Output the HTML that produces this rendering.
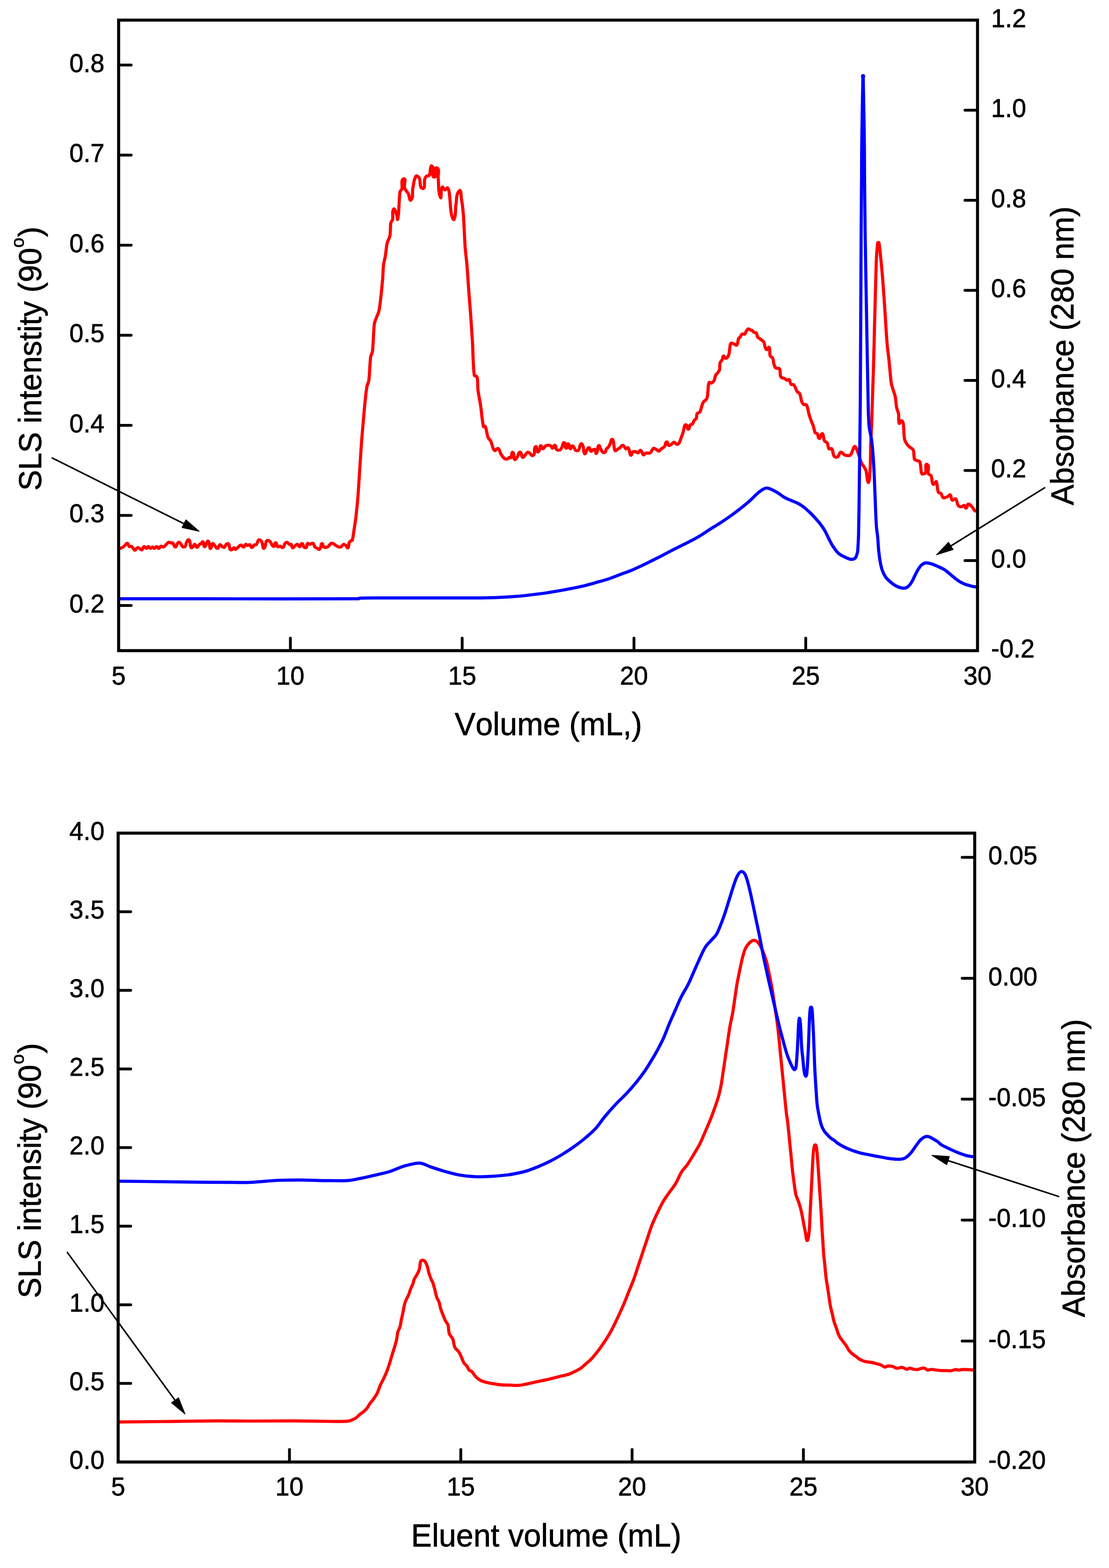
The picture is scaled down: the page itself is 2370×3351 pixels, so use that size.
<!DOCTYPE html><html><head><meta charset="utf-8"><title>SLS and absorbance chromatograms</title><style>html,body{margin:0;padding:0;background:#fff;}svg{display:block;}text{font-family:"Liberation Sans", Arial, sans-serif;fill:#000;font-kerning:none;stroke:#000;stroke-width:0.8px;}</style></head><body>
<svg width="2370" height="3351" viewBox="0 0 2370 3351">
<rect width="2370" height="3351" fill="#fff"/>
<path d="M256.9 1171.9 C258.7 1171.2 260.7 1170.7 262.3 1169.6 C264.0 1168.6 265.4 1167.1 266.9 1165.8 C268.7 1164.3 270.0 1160.6 272.3 1161.2 C274.9 1161.8 274.0 1166.5 276.2 1168.1 C277.4 1169.0 279.4 1166.7 280.8 1167.3 C282.6 1168.2 283.3 1170.5 284.6 1171.9 C285.9 1173.3 286.7 1176.1 288.5 1175.8 C291.0 1175.4 291.4 1171.1 293.9 1170.4 C295.8 1169.9 297.5 1171.8 299.3 1172.7 C300.6 1173.4 301.8 1175.7 303.1 1175.0 C305.5 1173.7 305.1 1168.9 307.7 1168.1 C309.8 1167.4 310.9 1171.9 313.1 1171.9 C314.9 1171.9 315.2 1168.1 317.0 1168.1 C319.0 1168.1 319.6 1171.7 321.6 1171.9 C323.4 1172.2 324.4 1169.2 326.2 1169.2 C327.8 1169.2 328.5 1172.1 330.0 1171.9 C332.0 1171.7 332.7 1168.1 334.7 1168.1 C336.7 1168.1 337.3 1172.1 339.3 1171.9 C341.5 1171.8 341.8 1168.0 343.9 1167.3 C345.4 1166.8 346.9 1169.0 348.5 1168.9 C350.0 1168.7 351.2 1167.5 352.4 1166.6 C353.8 1165.4 354.9 1164.0 356.2 1162.7 C357.5 1161.4 358.3 1159.3 360.1 1158.9 C361.9 1158.4 363.6 1160.1 365.5 1160.4 C366.7 1160.6 368.4 1159.5 369.3 1160.4 C371.8 1162.7 371.4 1168.1 374.7 1168.9 C377.0 1169.5 377.1 1164.6 378.5 1162.7 C379.6 1161.3 380.6 1159.0 382.4 1158.9 C384.0 1158.7 385.2 1160.7 386.2 1161.9 C387.8 1163.8 388.1 1166.8 390.1 1168.1 C391.6 1169.1 394.2 1169.4 395.5 1168.1 C397.6 1166.0 397.3 1162.3 398.6 1159.6 C399.6 1157.4 400.2 1154.5 402.4 1153.5 C403.7 1152.9 405.0 1155.2 405.5 1156.6 C407.1 1161.0 406.1 1166.3 408.6 1170.4 C409.3 1171.7 411.3 1169.1 412.4 1168.1 C413.9 1166.8 414.3 1163.1 416.3 1163.5 C418.8 1163.9 418.3 1169.4 420.9 1169.6 C423.2 1169.8 423.7 1165.8 425.5 1164.2 C426.9 1163.0 428.6 1162.3 430.1 1161.2 C431.4 1160.2 432.8 1156.9 434.0 1158.1 C436.4 1160.6 434.0 1166.4 437.0 1168.1 C439.2 1169.3 439.5 1164.0 440.9 1161.9 C442.1 1160.1 442.8 1155.5 444.7 1156.6 C447.6 1158.1 446.7 1162.7 447.8 1165.8 C448.5 1167.9 448.3 1173.1 450.1 1171.9 C453.2 1170.1 450.9 1163.7 454.0 1161.9 C456.0 1160.7 457.6 1164.9 459.4 1166.6 C461.2 1168.3 462.3 1172.5 464.7 1171.9 C467.8 1171.3 467.2 1165.4 470.1 1164.2 C472.0 1163.5 473.0 1167.1 474.8 1168.1 C476.2 1168.9 478.0 1170.5 479.4 1169.6 C481.8 1168.2 481.8 1164.4 484.0 1162.7 C485.2 1161.8 487.8 1161.4 488.6 1162.7 C490.8 1166.0 489.8 1170.7 491.7 1174.3 C492.2 1175.3 494.0 1175.3 495.0 1174.9 C497.0 1174.1 497.8 1171.0 500.0 1170.7 C501.5 1170.6 501.8 1174.2 503.3 1174.1 C505.5 1173.9 506.6 1171.2 508.3 1169.9 C510.5 1168.2 512.2 1165.1 515.0 1164.9 C517.3 1164.8 518.4 1169.5 520.8 1169.1 C523.1 1168.7 522.7 1164.1 524.9 1163.3 C526.4 1162.7 527.5 1165.6 529.1 1165.8 C530.8 1165.9 532.5 1163.4 534.1 1164.1 C536.2 1165.1 535.9 1169.7 538.2 1169.9 C540.6 1170.1 541.3 1166.2 543.2 1164.9 C544.7 1164.0 547.1 1164.6 548.2 1163.3 C550.4 1160.7 549.9 1156.4 552.4 1154.1 C553.6 1153.0 556.1 1153.8 557.3 1155.0 C559.2 1156.6 559.9 1159.3 560.7 1161.6 C561.8 1164.8 560.9 1169.0 563.2 1171.6 C564.2 1172.8 565.9 1169.7 566.5 1168.3 C567.9 1164.8 567.5 1160.8 569.0 1157.4 C569.5 1156.2 570.9 1155.0 572.3 1155.0 C574.2 1155.0 576.0 1156.1 577.3 1157.4 C579.2 1159.5 579.6 1162.7 581.5 1164.9 C582.5 1166.2 584.3 1168.3 585.6 1167.4 C587.9 1165.9 586.2 1159.6 588.9 1159.9 C592.0 1160.3 590.7 1166.3 593.1 1168.3 C594.4 1169.3 596.4 1167.2 598.1 1167.4 C600.4 1167.8 602.6 1171.0 604.7 1169.9 C607.5 1168.4 606.9 1164.0 608.9 1161.6 C610.1 1160.2 612.0 1158.8 613.9 1159.1 C615.8 1159.5 616.3 1162.4 618.0 1163.3 C619.3 1163.9 621.2 1162.3 622.2 1163.3 C624.1 1165.2 623.0 1169.7 625.5 1170.7 C627.5 1171.5 628.8 1167.9 630.5 1166.6 C632.1 1165.4 633.5 1162.9 635.5 1163.3 C637.8 1163.6 638.2 1168.6 640.5 1168.3 C643.2 1167.8 642.7 1161.3 645.5 1161.6 C648.3 1161.9 647.5 1167.2 649.6 1169.1 C650.9 1170.2 653.4 1171.1 654.6 1169.9 C656.6 1167.9 654.9 1163.5 657.1 1161.6 C658.4 1160.4 660.3 1163.3 662.1 1163.3 C663.3 1163.3 664.2 1161.9 665.4 1161.6 C666.8 1161.3 668.6 1160.6 669.6 1161.6 C671.5 1163.5 671.1 1167.0 672.9 1169.1 C674.1 1170.5 676.2 1170.7 677.9 1171.6 C679.3 1172.3 680.5 1174.4 682.0 1174.1 C683.8 1173.7 684.6 1171.5 685.4 1169.9 C686.6 1167.3 685.1 1162.4 687.9 1161.6 C690.2 1160.9 689.5 1166.4 691.2 1168.3 C692.2 1169.4 693.8 1169.9 695.3 1169.9 C697.3 1169.9 699.5 1169.4 701.2 1168.3 C703.5 1166.5 704.5 1163.1 707.0 1161.6 C708.4 1160.7 710.4 1161.0 712.0 1161.6 C714.2 1162.5 715.7 1164.5 717.8 1165.8 C719.9 1167.0 722.0 1168.6 724.4 1169.1 C726.1 1169.4 728.0 1169.1 729.4 1168.3 C731.4 1167.1 732.1 1163.8 734.4 1163.3 C736.2 1162.8 738.0 1164.6 739.4 1165.8 C741.1 1167.1 741.9 1172.2 743.5 1170.7 C746.3 1168.3 744.5 1163.3 746.0 1159.9 C747.0 1157.8 749.2 1156.4 751.0 1155.0 C751.5 1154.6 752.8 1155.2 752.9 1154.6 C754.8 1146.8 755.6 1138.9 756.8 1131.0 C758.2 1121.9 759.7 1112.8 760.8 1103.6 C762.3 1090.6 763.6 1077.5 764.7 1064.4 C766.2 1044.8 767.3 1025.2 768.6 1005.6 C769.9 986.0 771.1 966.4 772.5 946.8 C773.7 931.1 775.1 915.4 776.4 899.8 C777.7 885.4 778.8 871.0 780.4 856.6 C781.5 846.2 782.4 835.6 784.3 825.3 C785.0 821.2 787.7 817.6 788.2 813.5 C790.3 796.6 790.0 779.5 792.1 762.6 C792.6 758.5 795.6 754.9 796.0 750.8 C798.2 731.3 797.8 711.5 800.0 692.0 C800.4 687.9 802.5 684.1 803.9 680.2 C805.8 675.0 808.5 670.0 809.8 664.6 C811.8 655.6 812.6 646.3 813.7 637.1 C815.2 624.1 816.5 611.0 817.6 597.9 C818.5 587.5 818.4 577.0 819.6 566.6 C820.3 559.9 822.4 553.5 823.5 547.0 C825.0 537.8 825.4 528.5 827.4 519.5 C828.6 514.1 832.3 509.3 833.3 503.8 C834.9 494.8 833.7 485.4 835.2 476.4 C835.7 473.5 838.6 471.4 839.2 468.6 C840.6 461.5 837.1 453.0 841.1 447.0 C843.2 443.8 845.5 453.3 847.0 456.8 C848.6 460.5 849.5 472.6 850.1 468.6 C853.4 449.2 852.2 429.3 854.8 409.8 C855.2 407.4 858.1 406.1 858.8 403.9 C860.8 396.9 855.8 384.6 862.7 382.3 C868.9 380.2 862.7 395.7 864.6 401.9 C866.0 406.4 870.2 409.5 872.5 413.7 C874.8 418.1 875.2 431.2 878.4 427.4 C883.9 420.8 880.5 410.3 882.3 401.9 C884.1 393.3 884.2 383.8 888.9 376.4 C890.4 374.2 894.7 378.0 896.0 380.4 C899.7 387.2 895.4 401.4 903.1 402.7 C909.9 403.9 905.6 388.9 907.8 382.3 C908.5 380.1 909.8 377.9 911.7 376.4 C913.3 375.1 916.7 376.4 917.6 374.5 C920.3 368.4 918.5 360.8 921.5 354.9 C922.3 353.2 924.9 357.0 925.4 358.8 C927.2 365.1 921.5 378.4 928.1 378.4 C934.9 378.4 926.7 357.2 933.2 358.8 C940.3 360.5 935.5 373.2 936.4 380.4 C938.1 394.1 935.5 408.9 941.1 421.5 C944.0 428.2 941.1 406.2 945.0 400.0 C946.5 397.6 948.1 405.4 950.9 405.8 C953.2 406.2 955.3 400.1 956.8 401.9 C960.2 406.1 959.9 412.3 960.7 417.6 C962.5 430.6 962.1 443.9 964.6 456.8 C965.4 461.1 968.5 472.5 970.5 468.6 C975.2 459.1 972.5 447.6 974.4 437.2 C976.2 427.3 974.3 414.9 981.5 407.8 C985.8 403.5 985.1 419.4 986.2 425.4 C988.0 435.8 989.3 446.3 990.1 456.8 C991.9 480.3 992.3 503.9 994.0 527.4 C994.9 540.5 996.8 553.5 997.9 566.6 C999.4 584.8 1000.5 603.2 1001.8 621.4 C1003.1 638.4 1004.5 655.4 1005.8 672.4 C1007.2 692.0 1008.5 711.6 1009.7 731.2 C1011.1 754.7 1010.5 778.4 1013.6 801.8 C1013.9 804.1 1018.9 803.4 1019.5 805.7 C1021.7 814.6 1020.3 824.0 1021.4 833.1 C1022.9 845.0 1025.6 856.6 1027.3 868.4 C1029.5 882.8 1030.0 897.4 1033.2 911.5 C1033.5 912.8 1036.6 910.3 1037.1 911.5 C1040.2 919.0 1040.2 927.5 1043.0 935.0 C1044.1 938.1 1047.4 940.0 1048.9 942.9 C1052.0 949.2 1051.7 957.5 1056.7 962.5 C1058.8 964.6 1062.0 957.1 1064.6 958.6 C1068.4 960.7 1068.1 966.6 1070.4 970.3 C1072.7 973.9 1074.9 977.7 1078.3 980.1 C1080.1 981.4 1082.8 981.1 1084.9 980.5 C1086.5 980.1 1087.1 977.9 1088.6 977.4 C1089.8 977.0 1091.6 979.0 1092.3 978.0 C1094.6 974.8 1092.5 965.2 1096.0 966.9 C1100.6 969.2 1095.9 978.4 1099.7 981.7 C1101.9 983.6 1104.1 977.9 1105.9 975.6 C1108.0 972.7 1107.9 965.7 1111.4 966.3 C1115.5 967.0 1113.5 975.2 1116.9 977.4 C1118.8 978.6 1120.3 974.6 1121.9 973.1 C1124.0 970.9 1125.1 967.3 1128.0 966.3 C1129.9 965.7 1131.4 968.2 1133.0 969.4 C1134.5 970.7 1135.3 973.4 1137.3 973.7 C1139.0 974.0 1140.9 972.3 1141.6 970.6 C1143.5 965.6 1140.1 957.6 1144.7 954.6 C1148.0 952.4 1145.7 963.4 1149.0 965.7 C1150.7 967.0 1152.3 962.7 1153.3 960.8 C1154.6 958.3 1153.0 953.5 1155.7 952.8 C1158.2 952.1 1157.5 958.9 1160.0 958.9 C1163.0 958.9 1163.8 954.4 1166.2 952.8 C1167.6 951.8 1169.4 951.6 1171.1 951.6 C1173.2 951.6 1175.5 951.7 1177.3 952.8 C1179.0 953.9 1179.0 958.0 1181.0 957.7 C1183.6 957.3 1183.4 950.7 1185.9 951.6 C1189.0 952.7 1187.1 958.6 1189.6 960.8 C1191.5 962.4 1194.8 962.6 1197.0 961.4 C1199.4 960.2 1200.0 957.0 1201.3 954.6 C1202.9 951.8 1202.6 944.9 1205.6 946.0 C1209.5 947.4 1205.9 956.6 1209.9 957.7 C1213.2 958.6 1210.9 948.0 1214.2 948.5 C1218.0 949.0 1215.2 957.3 1218.5 958.9 C1220.8 960.1 1220.4 953.3 1222.9 952.8 C1224.8 952.4 1225.9 955.5 1227.2 957.1 C1228.4 958.8 1228.4 961.6 1230.2 962.6 C1232.1 963.6 1235.1 963.6 1236.4 962.0 C1239.5 958.3 1238.0 951.4 1241.9 948.5 C1244.0 947.0 1245.4 952.3 1246.3 954.6 C1247.9 959.4 1246.1 965.6 1249.3 969.4 C1251.0 971.3 1252.2 965.3 1253.6 963.3 C1255.3 961.0 1255.8 956.1 1258.6 956.5 C1261.6 956.9 1260.3 963.0 1262.9 964.5 C1264.4 965.4 1265.6 962.1 1267.2 961.4 C1268.5 960.8 1270.5 959.8 1271.5 960.8 C1273.5 962.8 1272.6 970.9 1274.6 968.8 C1278.5 964.7 1275.4 956.6 1279.3 952.5 C1281.2 950.5 1282.2 957.0 1283.6 959.3 C1285.2 961.7 1286.1 965.0 1288.5 966.7 C1289.9 967.6 1292.3 967.2 1293.5 966.0 C1295.2 964.3 1294.6 961.3 1295.9 959.3 C1297.0 957.7 1299.2 957.1 1300.2 955.6 C1302.1 952.9 1303.2 949.8 1304.6 946.9 C1305.8 944.3 1305.3 938.9 1308.3 938.9 C1311.1 938.9 1310.6 944.2 1311.3 946.9 C1312.7 952.2 1311.6 958.3 1314.4 963.0 C1315.3 964.5 1317.7 961.4 1319.3 960.5 C1321.0 959.5 1322.7 958.6 1324.3 957.4 C1326.6 955.7 1328.1 951.5 1331.0 951.9 C1334.3 952.3 1334.8 957.9 1337.8 959.3 C1339.3 959.9 1340.9 955.7 1342.1 956.8 C1344.7 959.2 1344.6 963.4 1345.8 966.7 C1346.6 968.7 1346.1 973.0 1348.3 972.8 C1350.8 972.6 1349.9 967.5 1352.0 966.0 C1353.8 964.7 1356.5 965.1 1358.7 965.4 C1360.6 965.7 1361.9 968.4 1363.7 967.9 C1366.0 967.1 1366.1 962.5 1368.6 962.3 C1370.6 962.2 1371.1 965.6 1372.3 967.3 C1373.4 968.9 1373.5 971.9 1375.4 972.2 C1377.2 972.5 1377.9 969.0 1379.7 968.5 C1382.8 967.5 1386.6 969.3 1389.5 967.9 C1391.8 966.8 1392.3 963.7 1393.8 961.7 C1394.8 960.4 1395.3 958.0 1396.9 958.0 C1399.7 958.0 1401.9 960.4 1404.3 961.7 C1405.6 962.4 1406.6 964.6 1408.0 964.2 C1410.2 963.5 1411.1 960.7 1412.9 959.3 C1415.2 957.4 1418.5 956.7 1420.3 954.3 C1422.5 951.5 1421.2 945.5 1424.6 944.5 C1427.4 943.7 1426.4 950.7 1428.9 951.9 C1430.9 952.8 1433.2 950.5 1435.1 949.4 C1437.1 948.2 1438.3 945.1 1440.6 945.1 C1443.0 945.1 1443.9 949.0 1446.2 949.4 C1448.0 949.7 1450.1 948.5 1451.1 946.9 C1453.6 943.3 1454.5 938.8 1456.0 934.6 C1457.6 930.6 1459.1 926.5 1460.3 922.3 C1461.7 917.8 1461.5 912.8 1463.7 908.6 C1464.3 907.5 1466.6 907.7 1467.4 908.6 C1469.4 911.0 1468.0 917.2 1471.1 917.2 C1474.2 917.2 1472.9 911.1 1474.8 908.6 C1475.9 907.2 1478.5 907.5 1479.7 906.2 C1481.5 904.1 1481.8 901.0 1483.4 898.8 C1484.7 896.9 1487.4 896.0 1488.3 893.8 C1489.6 890.8 1488.0 886.9 1489.6 884.0 C1490.7 881.9 1494.4 882.3 1495.7 880.3 C1497.9 877.1 1498.1 872.9 1499.4 869.2 C1500.6 865.9 1501.2 862.3 1503.1 859.4 C1505.0 856.4 1509.2 855.2 1510.5 852.0 C1512.6 846.6 1512.1 840.5 1513.0 834.7 C1513.8 829.0 1513.0 822.8 1515.4 817.5 C1516.1 816.0 1518.8 819.4 1520.3 818.7 C1523.0 817.5 1525.1 815.1 1526.5 812.6 C1528.1 809.6 1527.5 805.8 1529.0 802.7 C1530.1 800.3 1532.4 798.7 1533.9 796.6 C1535.3 794.6 1537.0 792.7 1537.6 790.4 C1538.7 785.6 1537.5 780.4 1538.8 775.6 C1539.6 772.8 1542.4 770.9 1543.7 768.2 C1544.9 765.9 1543.7 761.7 1546.2 760.8 C1548.4 760.1 1548.9 766.3 1551.1 765.8 C1554.3 765.1 1556.2 761.4 1557.3 758.4 C1559.2 753.3 1558.7 747.7 1559.8 742.4 C1560.3 739.4 1559.9 735.7 1562.2 733.7 C1563.8 732.4 1566.4 734.4 1568.4 735.0 C1570.5 735.6 1573.1 739.1 1574.5 737.4 C1577.6 733.9 1576.4 728.2 1578.2 723.9 C1578.9 722.3 1580.9 721.6 1581.9 720.2 C1583.4 718.3 1583.6 715.3 1585.6 714.0 C1587.4 713.0 1590.0 715.1 1591.8 714.0 C1593.4 713.1 1593.2 710.6 1594.2 709.1 C1595.7 706.9 1596.7 703.9 1599.2 703.0 C1600.9 702.3 1602.4 704.7 1604.1 705.4 C1605.3 705.9 1606.7 705.9 1607.8 706.7 C1609.2 707.6 1610.0 709.5 1611.5 710.3 C1612.9 711.2 1615.4 710.2 1616.4 711.6 C1618.2 714.0 1617.3 717.6 1618.9 720.2 C1619.9 722.0 1622.2 722.6 1623.8 723.9 C1626.7 726.3 1630.4 728.1 1632.4 731.3 C1634.2 734.1 1633.7 738.0 1634.9 741.1 C1635.7 743.4 1636.2 747.0 1638.6 747.3 C1640.9 747.6 1642.4 740.3 1643.5 742.4 C1646.5 747.8 1644.0 754.9 1646.0 760.8 C1646.6 762.8 1650.1 762.7 1650.9 764.5 C1653.1 769.5 1652.8 775.3 1654.6 780.5 C1655.3 782.8 1656.3 785.4 1658.3 786.7 C1660.4 788.1 1664.4 785.8 1665.7 787.9 C1668.3 792.6 1666.5 798.8 1668.1 803.9 C1668.6 805.6 1670.3 806.8 1671.8 807.6 C1673.3 808.5 1675.2 808.1 1676.7 808.9 C1678.6 809.8 1679.7 812.1 1681.7 812.6 C1683.3 813.0 1685.4 810.1 1686.6 811.3 C1689.1 813.8 1688.0 818.6 1690.3 821.2 C1691.7 822.7 1695.1 820.8 1696.5 822.4 C1700.0 826.6 1700.8 832.6 1703.8 837.2 C1705.0 838.9 1707.9 839.0 1708.8 840.9 C1711.4 846.7 1711.5 853.4 1713.7 859.4 C1714.4 861.3 1715.6 863.2 1717.4 864.3 C1719.2 865.4 1722.5 863.7 1723.5 865.5 C1726.7 871.1 1726.7 877.9 1728.5 884.0 C1729.9 889.0 1731.6 893.9 1733.4 898.8 C1734.9 902.9 1736.9 906.9 1738.3 911.1 C1739.8 915.5 1739.8 920.5 1742.0 924.6 C1742.9 926.2 1745.9 925.6 1746.9 927.1 C1749.0 930.0 1747.3 935.8 1750.6 936.9 C1753.3 937.8 1752.7 931.8 1754.3 929.6 C1755.2 928.4 1757.3 925.8 1758.0 927.1 C1760.6 931.4 1759.5 937.3 1761.7 941.9 C1762.9 944.2 1766.6 944.5 1767.9 946.8 C1770.0 950.5 1768.9 955.8 1771.6 959.1 C1772.9 960.7 1776.6 957.4 1777.7 959.1 C1780.9 963.7 1779.4 970.6 1782.7 975.1 C1784.1 977.2 1787.9 977.7 1790.0 976.4 C1793.3 974.3 1793.0 968.7 1796.2 966.5 C1797.7 965.5 1799.6 968.0 1801.1 969.0 C1802.8 970.0 1803.8 972.2 1805.7 972.6 C1809.3 973.5 1813.8 974.7 1817.0 972.6 C1820.5 970.3 1820.6 965.0 1822.7 961.3 C1824.0 958.9 1824.1 954.2 1826.9 954.2 C1829.6 954.2 1830.0 958.8 1831.1 961.3 C1832.8 965.0 1834.1 968.8 1835.4 972.6 C1837.4 978.3 1838.6 984.2 1841.1 989.6 C1842.4 992.7 1845.0 995.2 1846.7 998.1 C1848.3 1000.9 1850.2 1003.6 1851.0 1006.6 C1853.0 1014.5 1852.1 1023.2 1855.2 1030.7 C1856.2 1033.0 1857.7 1026.1 1858.0 1023.6 C1859.4 1012.3 1859.6 1001.0 1860.0 989.6 C1860.5 975.5 1860.4 961.3 1860.9 947.2 C1861.3 933.0 1862.3 918.9 1862.9 904.7 C1863.6 885.8 1863.9 866.9 1864.6 848.1 C1865.2 829.2 1866.0 810.3 1866.5 791.4 C1867.1 772.6 1867.5 753.7 1868.0 734.8 C1868.4 715.9 1868.9 697.1 1869.4 678.2 C1870.0 654.6 1870.7 631.0 1871.3 607.4 C1871.9 588.5 1872.2 569.6 1873.0 550.8 C1873.4 542.3 1874.0 533.8 1875.0 525.3 C1875.3 522.9 1874.6 518.2 1877.0 518.2 C1879.5 518.2 1878.9 522.9 1879.3 525.3 C1880.6 533.7 1881.2 542.3 1882.1 550.8 C1883.1 560.2 1884.1 569.6 1884.9 579.1 C1886.0 591.4 1886.9 603.6 1887.8 615.9 C1888.7 629.1 1889.7 642.3 1890.6 655.5 C1891.6 670.6 1892.4 685.7 1893.4 700.8 C1894.3 714.1 1895.1 727.3 1896.3 740.5 C1897.0 748.1 1898.3 755.6 1899.1 763.1 C1900.1 772.6 1901.0 782.0 1901.9 791.4 C1902.9 800.9 1903.2 810.4 1904.8 819.8 C1905.6 824.6 1907.6 829.2 1909.0 833.9 C1910.4 838.6 1912.3 843.2 1913.3 848.1 C1914.7 855.5 1914.6 863.2 1916.1 870.7 C1917.0 875.6 1919.5 880.0 1920.3 884.9 C1921.4 891.4 1919.3 898.5 1921.7 904.7 C1922.6 906.9 1923.6 899.0 1926.0 899.0 C1928.4 899.0 1929.8 902.4 1930.2 904.7 C1932.2 915.9 1931.0 927.5 1933.1 938.7 C1933.8 942.8 1936.4 946.5 1938.7 950.0 C1940.2 952.2 1942.4 953.9 1944.4 955.7 C1946.7 957.7 1950.4 958.5 1951.5 961.3 C1953.9 967.5 1952.3 974.8 1954.3 981.1 C1954.8 982.8 1957.0 983.2 1958.6 984.0 C1960.8 985.1 1964.7 984.4 1965.6 986.8 C1968.8 994.8 1966.8 1004.3 1969.9 1012.3 C1970.6 1014.0 1973.7 1012.9 1975.5 1012.3 C1976.8 1011.9 1978.0 1010.7 1978.4 1009.4 C1979.9 1003.9 1976.1 989.9 1981.2 992.5 C1987.2 995.4 1981.8 1006.0 1984.0 1012.3 C1984.8 1014.5 1988.7 1014.4 1989.7 1016.5 C1992.2 1022.3 1990.9 1029.4 1993.9 1034.9 C1994.8 1036.4 1996.9 1033.2 1998.2 1032.1 C1999.2 1031.3 2000.6 1028.0 2001.0 1029.3 C2003.6 1036.5 2002.5 1044.8 2005.3 1051.9 C2006.0 1053.9 2009.5 1053.2 2010.9 1054.7 C2013.0 1057.1 2012.8 1061.2 2015.2 1063.2 C2016.6 1064.5 2019.0 1063.7 2020.8 1063.2 C2022.9 1062.7 2024.7 1061.5 2026.5 1060.4 C2028.0 1059.6 2029.5 1056.4 2030.7 1057.6 C2033.6 1060.4 2031.8 1066.5 2035.0 1068.9 C2037.0 1070.4 2040.2 1064.4 2042.1 1066.1 C2045.9 1069.4 2044.7 1076.2 2047.7 1080.2 C2049.3 1082.3 2052.3 1083.1 2054.8 1083.1 C2056.9 1083.1 2058.4 1079.6 2060.5 1080.2 C2062.7 1080.9 2062.5 1086.6 2064.7 1085.9 C2067.7 1084.9 2065.9 1078.1 2069.0 1077.4 C2072.3 1076.7 2075.1 1080.7 2077.5 1083.1 C2079.9 1085.5 2080.6 1089.2 2083.1 1091.6 C2084.0 1092.3 2085.4 1091.6 2086.5 1091.6" fill="none" stroke="#ff0000" stroke-width="6.7" stroke-linejoin="round" stroke-linecap="round"/>
<path d="M257.0 1279.6 C427.0 1279.6 597.0 1280.0 767.0 1279.6 C767.5 1279.6 767.5 1278.3 768.0 1278.3 C778.7 1277.7 789.3 1277.8 800.0 1277.8 C873.9 1277.7 947.8 1278.0 1021.7 1277.8 C1034.0 1277.8 1046.3 1277.5 1058.6 1277.1 C1070.9 1276.7 1083.3 1276.2 1095.6 1275.2 C1107.9 1274.3 1120.2 1273.0 1132.5 1271.5 C1144.8 1270.1 1157.2 1268.6 1169.5 1266.7 C1181.8 1264.9 1194.1 1262.7 1206.4 1260.5 C1218.7 1258.2 1231.1 1255.9 1243.3 1253.1 C1255.8 1250.2 1268.0 1246.5 1280.3 1243.1 C1286.9 1241.3 1293.5 1239.5 1300.0 1237.3 C1308.3 1234.5 1316.4 1231.1 1324.6 1228.1 C1332.8 1225.0 1341.2 1222.2 1349.3 1218.8 C1357.6 1215.4 1365.7 1211.5 1373.9 1207.7 C1376.0 1206.8 1378.0 1205.8 1380.0 1204.8 C1390.3 1199.6 1400.6 1194.6 1410.8 1189.4 C1421.1 1184.1 1431.3 1178.6 1441.6 1173.3 C1451.8 1168.1 1462.2 1163.2 1472.4 1158.0 C1479.6 1154.2 1486.9 1150.4 1493.9 1146.3 C1501.3 1141.9 1508.3 1137.0 1515.5 1132.4 C1523.6 1127.2 1532.0 1122.3 1540.1 1117.0 C1548.4 1111.5 1556.6 1105.9 1564.7 1100.1 C1571.0 1095.6 1577.2 1091.0 1583.2 1086.2 C1589.5 1081.2 1595.7 1076.2 1601.7 1070.8 C1608.0 1065.2 1613.7 1058.8 1620.1 1053.3 C1624.0 1050.0 1628.0 1046.9 1632.5 1044.7 C1634.8 1043.5 1637.6 1042.8 1640.2 1043.1 C1644.0 1043.6 1647.5 1045.5 1650.9 1047.1 C1655.2 1049.1 1659.3 1051.4 1663.3 1053.9 C1667.5 1056.5 1671.2 1060.0 1675.6 1062.5 C1679.5 1064.8 1683.7 1066.5 1687.9 1068.4 C1693.0 1070.6 1698.3 1072.3 1703.3 1074.8 C1707.6 1077.0 1711.8 1079.3 1715.6 1082.2 C1722.1 1087.2 1728.2 1092.8 1734.1 1098.5 C1739.5 1103.9 1744.6 1109.6 1749.5 1115.5 C1753.9 1120.9 1758.1 1126.4 1761.8 1132.4 C1765.4 1138.3 1767.8 1144.8 1771.0 1150.9 C1774.0 1156.6 1776.7 1162.5 1780.2 1167.8 C1783.9 1173.3 1787.5 1179.0 1792.6 1183.2 C1798.0 1187.6 1804.7 1190.2 1811.0 1193.1 C1813.9 1194.3 1817.1 1195.6 1820.3 1195.5 C1823.0 1195.4 1826.2 1194.6 1828.0 1192.4 C1830.7 1189.0 1831.1 1184.2 1832.6 1180.1 C1832.6 1180.1 1832.6 1180.0 1832.6 1180.0 C1832.8 1178.2 1833.1 1176.4 1833.2 1174.6 C1833.8 1163.6 1834.6 1152.5 1834.8 1141.5 C1835.7 1102.9 1836.0 1064.2 1836.5 1025.6 C1837.2 970.4 1838.1 915.2 1838.5 860.0 C1839.4 740.0 1839.6 620.0 1840.3 500.0 C1840.5 460.0 1840.9 420.0 1841.2 380.0 C1841.3 360.0 1841.3 340.0 1841.5 320.0 C1841.7 296.7 1842.1 273.3 1842.5 250.0 C1842.9 226.7 1843.3 203.3 1843.8 180.0 C1843.8 176.0 1843.9 172.0 1844.0 168.0 C1844.1 165.8 1842.2 161.5 1844.4 161.5 C1846.6 161.5 1844.7 165.8 1844.8 168.0 C1844.9 172.0 1845.0 176.0 1845.0 180.0 C1845.5 203.3 1845.9 226.7 1846.3 250.0 C1846.7 273.3 1847.1 296.7 1847.3 320.0 C1847.5 340.0 1847.4 360.0 1847.6 380.0 C1848.0 420.0 1848.3 460.0 1848.9 500.0 C1849.7 552.3 1850.7 604.7 1851.6 657.0 C1852.8 724.7 1853.8 792.3 1855.3 860.0 C1855.7 876.6 1855.7 893.2 1857.2 909.7 C1858.2 920.9 1861.7 931.7 1863.0 942.8 C1865.0 959.3 1866.1 975.9 1867.1 992.5 C1868.4 1014.5 1869.0 1036.6 1870.0 1058.7 C1871.0 1080.8 1871.5 1102.9 1872.9 1124.9 C1873.4 1132.7 1875.0 1140.5 1875.7 1148.3 C1876.6 1157.7 1876.8 1167.2 1877.8 1176.6 C1878.7 1185.1 1879.8 1193.7 1881.3 1202.1 C1882.4 1207.9 1883.6 1213.6 1885.6 1219.1 C1887.4 1224.1 1889.6 1229.0 1892.7 1233.3 C1895.8 1237.6 1899.9 1241.2 1904.0 1244.6 C1907.9 1247.9 1912.1 1251.0 1916.7 1253.1 C1921.2 1255.2 1926.0 1256.8 1930.9 1257.1 C1933.8 1257.3 1937.0 1256.3 1939.4 1254.5 C1942.9 1252.0 1945.6 1248.3 1947.9 1244.6 C1951.3 1239.3 1953.5 1233.2 1956.4 1227.6 C1958.6 1223.3 1960.8 1218.9 1963.5 1214.9 C1965.5 1211.8 1967.6 1208.6 1970.6 1206.4 C1973.0 1204.5 1976.0 1203.1 1979.0 1202.8 C1982.9 1202.6 1986.7 1203.9 1990.4 1205.0 C1995.2 1206.5 1999.9 1208.6 2004.5 1210.6 C2009.4 1212.8 2014.3 1214.8 2018.7 1217.7 C2023.8 1221.0 2028.1 1225.3 2032.9 1229.0 C2037.6 1232.8 2042.0 1237.0 2047.0 1240.4 C2051.5 1243.4 2056.2 1246.1 2061.2 1248.2 C2065.7 1250.1 2070.6 1251.2 2075.4 1252.4 C2078.9 1253.3 2082.4 1253.8 2086.0 1254.5" fill="none" stroke="#0000ff" stroke-width="6.7" stroke-linejoin="round" stroke-linecap="round"/>
<rect x="253.5" y="43.0" width="1835.5" height="1347.5" fill="none" stroke="#000" stroke-width="6.5"/>
<text transform="translate(253.5 1462.5) scale(1 1.040)" font-size="54" text-anchor="middle">5</text>
<line x1="620.6" y1="1390.5" x2="620.6" y2="1363.7" stroke="#000" stroke-width="6" stroke-linecap="round"/>
<text transform="translate(620.6 1462.5) scale(1 1.040)" font-size="54" text-anchor="middle">10</text>
<line x1="987.7" y1="1390.5" x2="987.7" y2="1363.7" stroke="#000" stroke-width="6" stroke-linecap="round"/>
<text transform="translate(987.7 1462.5) scale(1 1.040)" font-size="54" text-anchor="middle">15</text>
<line x1="1354.8" y1="1390.5" x2="1354.8" y2="1363.7" stroke="#000" stroke-width="6" stroke-linecap="round"/>
<text transform="translate(1354.8 1462.5) scale(1 1.040)" font-size="54" text-anchor="middle">20</text>
<line x1="1721.9" y1="1390.5" x2="1721.9" y2="1363.7" stroke="#000" stroke-width="6" stroke-linecap="round"/>
<text transform="translate(1721.9 1462.5) scale(1 1.040)" font-size="54" text-anchor="middle">25</text>
<text transform="translate(2089.0 1462.5) scale(1 1.040)" font-size="54" text-anchor="middle">30</text>
<line x1="253.5" y1="139.0" x2="280.3" y2="139.0" stroke="#000" stroke-width="6" stroke-linecap="round"/>
<text transform="translate(223.3 153.8) scale(1 1.040)" font-size="54" text-anchor="end">0.8</text>
<line x1="253.5" y1="331.5" x2="280.3" y2="331.5" stroke="#000" stroke-width="6" stroke-linecap="round"/>
<text transform="translate(223.3 346.3) scale(1 1.040)" font-size="54" text-anchor="end">0.7</text>
<line x1="253.5" y1="524.0" x2="280.3" y2="524.0" stroke="#000" stroke-width="6" stroke-linecap="round"/>
<text transform="translate(223.3 538.8) scale(1 1.040)" font-size="54" text-anchor="end">0.6</text>
<line x1="253.5" y1="716.5" x2="280.3" y2="716.5" stroke="#000" stroke-width="6" stroke-linecap="round"/>
<text transform="translate(223.3 731.3) scale(1 1.040)" font-size="54" text-anchor="end">0.5</text>
<line x1="253.5" y1="909.0" x2="280.3" y2="909.0" stroke="#000" stroke-width="6" stroke-linecap="round"/>
<text transform="translate(223.3 923.8) scale(1 1.040)" font-size="54" text-anchor="end">0.4</text>
<line x1="253.5" y1="1101.5" x2="280.3" y2="1101.5" stroke="#000" stroke-width="6" stroke-linecap="round"/>
<text transform="translate(223.3 1116.3) scale(1 1.040)" font-size="54" text-anchor="end">0.3</text>
<line x1="253.5" y1="1294.0" x2="280.3" y2="1294.0" stroke="#000" stroke-width="6" stroke-linecap="round"/>
<text transform="translate(223.3 1308.8) scale(1 1.040)" font-size="54" text-anchor="end">0.2</text>
<text transform="translate(2118.0 1405.3) scale(1 1.040)" font-size="54">-0.2</text>
<line x1="2089.0" y1="1198.0" x2="2062.2" y2="1198.0" stroke="#000" stroke-width="6" stroke-linecap="round"/>
<text transform="translate(2118.0 1212.8) scale(1 1.040)" font-size="54">0.0</text>
<line x1="2089.0" y1="1005.5" x2="2062.2" y2="1005.5" stroke="#000" stroke-width="6" stroke-linecap="round"/>
<text transform="translate(2118.0 1020.3) scale(1 1.040)" font-size="54">0.2</text>
<line x1="2089.0" y1="813.0" x2="2062.2" y2="813.0" stroke="#000" stroke-width="6" stroke-linecap="round"/>
<text transform="translate(2118.0 827.8) scale(1 1.040)" font-size="54">0.4</text>
<line x1="2089.0" y1="620.5" x2="2062.2" y2="620.5" stroke="#000" stroke-width="6" stroke-linecap="round"/>
<text transform="translate(2118.0 635.3) scale(1 1.040)" font-size="54">0.6</text>
<line x1="2089.0" y1="428.0" x2="2062.2" y2="428.0" stroke="#000" stroke-width="6" stroke-linecap="round"/>
<text transform="translate(2118.0 442.8) scale(1 1.040)" font-size="54">0.8</text>
<line x1="2089.0" y1="235.5" x2="2062.2" y2="235.5" stroke="#000" stroke-width="6" stroke-linecap="round"/>
<text transform="translate(2118.0 250.3) scale(1 1.040)" font-size="54">1.0</text>
<text transform="translate(2118.0 57.8) scale(1 1.040)" font-size="54">1.2</text>
<text transform="translate(971.7 1570.5) scale(1 1.040)" font-size="66.5" textLength="400.4" lengthAdjust="spacing">Volume (mL,)</text>
<text transform="translate(88.0 1048.8) rotate(-90) scale(1 1.040)" font-size="66.5" textLength="519.4" lengthAdjust="spacing">SLS intenstity (90</text>
<text transform="translate(50.6 529.6) rotate(-90)" font-size="39">o</text>
<text transform="translate(88.0 506.4) rotate(-90) scale(1 1.040)" font-size="66.5">)</text>
<text transform="translate(2294.0 1079.8) rotate(-90) scale(1 1.040)" font-size="66.5" textLength="638.8" lengthAdjust="spacing">Absorbance (280 nm)</text>
<line x1="111.7" y1="978.8" x2="396.7" y2="1121.0" stroke="#000" stroke-width="3.3" stroke-linecap="round"/>
<polygon points="425.8,1135.5 389.0,1127.5 397.3,1110.9" fill="#000" stroke="#000" stroke-width="1.5" stroke-linejoin="round"/>
<line x1="2232.5" y1="1042.4" x2="2028.6" y2="1168.8" stroke="#000" stroke-width="3.3" stroke-linecap="round"/>
<polygon points="2001.0,1185.9 2027.1,1158.8 2036.9,1174.5" fill="#000" stroke="#000" stroke-width="1.5" stroke-linejoin="round"/>
<path d="M254.9 3039.0 C286.1 3038.7 317.3 3038.4 348.5 3038.0 C386.3 3037.6 424.1 3036.7 461.8 3036.6 C489.7 3036.4 517.7 3037.0 545.6 3037.0 C571.8 3037.0 598.1 3036.5 624.4 3036.6 C647.4 3036.6 670.4 3037.2 693.3 3037.5 C702.2 3037.7 711.1 3037.8 720.0 3037.8 C728.0 3037.7 736.1 3038.1 744.0 3037.2 C747.2 3036.9 750.2 3035.3 753.3 3034.1 C755.8 3033.1 758.4 3032.0 760.6 3030.4 C764.0 3028.0 766.7 3024.7 769.9 3022.1 C772.2 3020.1 775.0 3018.6 777.3 3016.5 C779.9 3014.3 782.5 3011.9 784.7 3009.2 C786.9 3006.3 788.1 3002.9 790.2 2999.9 C792.5 2996.7 795.3 2993.9 797.6 2990.7 C800.6 2986.5 803.6 2982.3 805.9 2977.8 C808.6 2972.4 810.0 2966.6 812.4 2961.1 C814.6 2956.1 817.4 2951.3 819.8 2946.3 C822.3 2940.9 825.0 2935.4 827.1 2929.7 C829.3 2924.3 830.9 2918.7 832.7 2913.1 C834.6 2907.0 836.4 2900.8 838.2 2894.6 C839.7 2889.7 841.4 2884.8 842.9 2879.8 C844.5 2874.3 846.2 2868.8 847.5 2863.2 C848.7 2857.7 848.8 2852.0 850.2 2846.6 C851.3 2842.7 853.8 2839.4 854.9 2835.5 C856.2 2830.7 856.6 2825.6 857.6 2820.7 C858.8 2815.2 860.2 2809.7 861.3 2804.1 C862.3 2799.2 862.9 2794.2 864.1 2789.3 C865.0 2785.5 866.3 2781.8 867.8 2778.2 C869.4 2774.4 871.7 2771.0 873.3 2767.1 C874.8 2763.6 875.6 2759.7 877.0 2756.1 C878.7 2751.7 880.9 2747.5 882.6 2743.1 C883.7 2740.1 884.0 2736.8 885.3 2733.9 C887.4 2729.4 890.5 2725.4 892.7 2721.0 C894.2 2718.0 895.6 2714.9 896.4 2711.7 C897.8 2706.3 897.1 2700.3 899.2 2695.1 C899.8 2693.6 902.2 2693.1 903.8 2693.3 C905.6 2693.4 907.4 2694.6 908.4 2696.0 C910.6 2699.1 911.9 2702.7 913.1 2706.2 C914.7 2711.0 915.3 2716.1 916.7 2721.0 C918.1 2725.3 919.6 2729.7 921.4 2733.9 C922.4 2736.4 924.2 2738.7 925.1 2741.3 C926.9 2746.7 928.2 2752.4 929.7 2757.9 C931.0 2762.8 931.7 2767.9 933.4 2772.7 C934.5 2775.9 936.9 2778.7 938.0 2781.9 C939.7 2786.7 940.2 2791.9 941.7 2796.7 C943.3 2801.7 945.3 2806.6 947.2 2811.5 C948.7 2815.2 950.1 2819.0 951.8 2822.6 C953.5 2825.8 956.4 2828.4 957.4 2831.8 C959.2 2837.8 958.1 2844.4 960.2 2850.3 C961.6 2854.5 965.9 2857.3 967.6 2861.4 C969.9 2867.2 969.5 2874.1 972.2 2879.8 C973.9 2883.6 978.2 2885.7 980.5 2889.1 C982.8 2892.5 984.3 2896.4 986.0 2900.2 C988.0 2904.4 989.2 2909.1 991.6 2913.1 C992.9 2915.3 995.5 2916.5 997.1 2918.6 C999.3 2921.5 1000.3 2925.2 1002.7 2927.9 C1004.1 2929.5 1006.8 2929.6 1008.3 2931.1 C1011.5 2934.4 1013.4 2938.9 1016.6 2942.2 C1019.9 2945.5 1023.6 2948.4 1027.7 2950.5 C1032.0 2952.7 1036.9 2953.5 1041.6 2954.7 C1046.1 2955.8 1050.8 2956.7 1055.4 2957.4 C1060.9 2958.3 1066.5 2959.2 1072.0 2959.7 C1078.5 2960.2 1085.0 2960.0 1091.4 2960.2 C1095.1 2960.3 1098.8 2960.8 1102.5 2960.8 C1107.2 2960.7 1111.8 2960.4 1116.4 2959.7 C1122.0 2958.8 1127.5 2957.3 1133.0 2956.1 C1138.5 2954.9 1144.1 2953.6 1149.6 2952.5 C1155.2 2951.3 1160.7 2950.4 1166.3 2949.1 C1171.8 2947.9 1177.3 2946.4 1182.9 2945.0 C1188.4 2943.6 1194.0 2942.2 1199.5 2940.8 C1205.0 2939.4 1210.7 2938.5 1216.1 2936.7 C1220.9 2935.0 1225.4 2932.6 1230.0 2930.3 C1233.8 2928.4 1237.6 2926.6 1241.1 2924.2 C1245.1 2921.3 1248.5 2917.7 1252.1 2914.5 C1255.8 2911.3 1259.9 2908.4 1263.2 2904.8 C1268.2 2899.6 1272.7 2893.9 1277.1 2888.2 C1281.9 2881.9 1286.5 2875.4 1290.9 2868.8 C1295.8 2861.5 1300.6 2854.2 1304.8 2846.6 C1309.8 2837.6 1314.2 2828.2 1318.6 2818.9 C1323.4 2808.8 1328.1 2798.7 1332.5 2788.4 C1336.4 2779.3 1339.9 2769.9 1343.6 2760.7 C1347.3 2751.5 1351.3 2742.3 1354.7 2733.0 C1358.7 2722.0 1362.1 2710.8 1365.8 2699.8 C1369.4 2688.7 1373.1 2677.6 1376.8 2666.5 C1378.9 2660.4 1381.0 2654.3 1383.0 2648.2 C1386.1 2639.0 1388.7 2629.7 1392.2 2620.7 C1395.8 2611.4 1400.1 2602.3 1404.4 2593.3 C1408.3 2585.1 1412.1 2576.8 1416.6 2568.9 C1420.2 2562.5 1424.6 2556.6 1428.8 2550.6 C1433.8 2543.4 1439.5 2536.8 1444.0 2529.3 C1448.7 2521.5 1451.5 2512.6 1456.2 2504.9 C1459.6 2499.3 1464.7 2495.0 1468.4 2489.6 C1473.9 2481.8 1478.7 2473.5 1483.7 2465.2 C1487.9 2458.2 1492.2 2451.2 1495.9 2443.9 C1500.3 2435.0 1504.0 2425.6 1508.0 2416.5 C1511.2 2409.4 1514.3 2402.3 1517.2 2395.1 C1520.4 2387.1 1523.5 2378.9 1526.3 2370.7 C1529.6 2361.6 1532.9 2352.6 1535.5 2343.3 C1538.0 2334.3 1539.9 2325.1 1541.6 2315.9 C1543.4 2305.7 1544.6 2295.5 1546.2 2285.4 C1547.7 2275.2 1549.2 2265.0 1550.7 2254.9 C1552.3 2244.7 1553.8 2234.6 1555.3 2224.4 C1556.8 2214.2 1558.1 2204.0 1559.9 2193.9 C1561.7 2183.7 1564.2 2173.6 1566.0 2163.4 C1567.7 2153.3 1569.0 2143.1 1570.5 2132.9 C1572.1 2122.8 1573.4 2112.6 1575.1 2102.4 C1576.9 2092.2 1579.1 2082.1 1581.2 2072.0 C1583.1 2062.8 1584.9 2053.6 1587.3 2044.5 C1589.0 2038.3 1590.5 2032.0 1593.4 2026.2 C1595.7 2021.7 1598.8 2017.5 1602.6 2014.0 C1605.1 2011.7 1608.3 2009.2 1611.7 2009.5 C1615.4 2009.8 1618.6 2012.7 1620.9 2015.5 C1624.8 2020.5 1627.4 2026.5 1630.0 2032.3 C1633.0 2039.2 1635.6 2046.4 1637.6 2053.7 C1640.2 2062.7 1641.8 2071.9 1643.7 2081.1 C1645.9 2091.2 1648.0 2101.4 1649.8 2111.6 C1652.1 2124.8 1654.0 2138.0 1655.9 2151.2 C1658.0 2165.4 1660.3 2179.6 1662.0 2193.9 C1663.8 2209.1 1665.1 2224.4 1666.6 2239.6 C1668.1 2254.9 1669.6 2270.1 1671.2 2285.4 C1672.7 2300.6 1674.2 2315.9 1675.7 2331.1 C1677.3 2346.3 1678.6 2361.6 1680.3 2376.8 C1681.2 2384.6 1682.6 2392.3 1683.5 2400.0 C1684.8 2411.6 1685.8 2423.2 1687.0 2434.8 C1688.1 2446.5 1689.3 2458.1 1690.5 2469.7 C1691.6 2481.3 1692.6 2492.9 1693.9 2504.5 C1694.9 2513.3 1696.2 2522.0 1697.4 2530.7 C1698.5 2538.2 1699.1 2545.9 1700.9 2553.3 C1702.1 2558.1 1704.5 2562.6 1706.1 2567.2 C1707.7 2571.9 1709.2 2576.5 1710.5 2581.2 C1712.2 2587.5 1713.5 2593.9 1714.8 2600.3 C1716.1 2606.7 1717.1 2613.1 1718.3 2619.5 C1719.4 2625.3 1720.7 2631.1 1721.8 2636.9 C1722.7 2641.6 1722.3 2646.6 1724.4 2650.9 C1725.1 2652.2 1726.7 2648.8 1727.0 2647.4 C1728.5 2640.5 1729.1 2633.5 1729.7 2626.5 C1730.6 2614.9 1730.8 2603.3 1731.4 2591.6 C1732.0 2580.0 1732.6 2568.4 1733.1 2556.8 C1733.7 2545.2 1734.3 2533.6 1734.9 2522.0 C1735.5 2510.3 1736.0 2498.7 1736.6 2487.1 C1737.1 2478.4 1737.4 2469.7 1738.4 2461.0 C1738.9 2456.4 1739.3 2451.7 1741.0 2447.4 C1741.3 2446.6 1743.3 2446.6 1743.6 2447.4 C1745.1 2451.7 1745.4 2456.4 1745.9 2461.0 C1746.8 2469.7 1747.3 2478.4 1747.9 2487.1 C1748.6 2495.8 1749.1 2504.5 1749.7 2513.2 C1750.3 2522.0 1750.8 2530.7 1751.4 2539.4 C1752.0 2548.1 1752.6 2556.8 1753.2 2565.5 C1753.8 2574.2 1754.4 2582.9 1754.9 2591.6 C1755.6 2603.2 1756.0 2614.9 1756.7 2626.5 C1757.2 2635.2 1757.8 2643.9 1758.4 2652.6 C1759.0 2661.3 1759.4 2670.0 1760.1 2678.7 C1760.9 2687.5 1761.9 2696.2 1762.8 2704.9 C1763.6 2713.6 1764.3 2722.3 1765.4 2731.0 C1766.2 2737.4 1767.4 2743.7 1768.4 2750.0 C1769.4 2757.0 1770.5 2764.0 1771.5 2770.9 C1772.6 2777.9 1773.3 2784.9 1774.7 2791.9 C1775.8 2797.5 1777.5 2803.0 1778.8 2808.6 C1780.0 2813.5 1780.6 2818.5 1782.0 2823.3 C1783.4 2828.3 1785.5 2833.0 1787.2 2837.9 C1788.7 2842.1 1789.8 2846.4 1791.4 2850.5 C1792.6 2853.4 1793.9 2856.2 1795.6 2858.9 C1797.4 2861.8 1799.8 2864.5 1801.9 2867.3 C1804.0 2870.0 1806.2 2872.7 1808.2 2875.6 C1810.4 2879.0 1811.9 2882.9 1814.4 2886.1 C1816.9 2889.2 1819.8 2891.9 1822.8 2894.5 C1824.7 2896.1 1827.1 2897.2 1829.1 2898.7 C1831.3 2900.3 1833.1 2902.4 1835.4 2903.9 C1838.0 2905.6 1840.8 2907.0 1843.8 2908.1 C1847.1 2909.3 1850.7 2910.1 1854.2 2910.8 C1857.0 2911.3 1859.8 2911.1 1862.6 2911.6 C1866.1 2912.3 1869.6 2913.4 1873.1 2914.4 C1876.6 2915.3 1880.2 2916.1 1883.5 2917.5 C1886.1 2918.6 1888.1 2921.2 1890.9 2921.7 C1892.7 2922.0 1894.2 2919.8 1896.1 2919.6 C1899.6 2919.2 1903.2 2919.3 1906.6 2920.0 C1910.2 2920.8 1913.3 2923.8 1917.0 2924.2 C1920.6 2924.6 1924.0 2921.8 1927.5 2922.1 C1931.2 2922.5 1934.2 2925.9 1938.0 2926.3 C1940.2 2926.5 1942.0 2923.8 1944.3 2923.8 C1947.2 2923.8 1949.8 2925.8 1952.6 2926.3 C1955.4 2926.8 1958.2 2927.2 1961.0 2926.9 C1963.2 2926.7 1965.1 2925.3 1967.3 2924.8 C1970.0 2924.2 1972.9 2923.2 1975.7 2923.8 C1978.1 2924.3 1979.5 2927.5 1981.9 2928.0 C1984.7 2928.5 1987.5 2926.5 1990.3 2926.5 C1993.8 2926.5 1997.3 2927.6 2000.8 2928.0 C2004.3 2928.4 2007.8 2928.8 2011.3 2929.0 C2014.7 2929.2 2018.2 2929.0 2021.7 2929.0 C2025.2 2929.1 2028.7 2929.8 2032.2 2929.4 C2035.8 2929.1 2039.1 2927.2 2042.7 2926.9 C2044.8 2926.7 2046.8 2928.0 2048.9 2928.0 C2051.1 2928.0 2053.1 2927.1 2055.2 2926.9 C2058.7 2926.7 2062.2 2926.8 2065.7 2926.9 C2070.2 2927.1 2074.8 2927.6 2079.3 2928.0" fill="none" stroke="#ff0000" stroke-width="6.7" stroke-linejoin="round" stroke-linecap="round"/>
<path d="M256.2 2524.4 C274.6 2524.6 293.1 2524.8 311.6 2525.0 C340.3 2525.4 369.0 2525.9 397.8 2526.2 C426.5 2526.5 455.3 2526.7 484.0 2526.8 C500.4 2526.9 516.8 2527.5 533.3 2526.8 C553.8 2526.0 574.3 2523.5 594.8 2522.5 C611.2 2521.8 627.7 2521.8 644.1 2521.9 C660.5 2522.0 676.9 2522.8 693.3 2523.2 C695.6 2523.2 697.8 2523.2 700.0 2523.2 C714.8 2523.0 729.6 2523.9 744.3 2522.8 C754.3 2522.0 764.1 2519.6 773.9 2517.6 C783.8 2515.6 793.6 2513.3 803.4 2511.0 C813.3 2508.6 823.3 2506.6 833.0 2503.6 C841.8 2500.8 850.1 2496.6 858.9 2493.6 C863.7 2491.9 868.6 2490.5 873.6 2489.5 C881.8 2487.9 890.1 2485.0 898.4 2485.8 C906.6 2486.7 913.8 2491.7 921.7 2494.3 C931.5 2497.6 941.3 2500.8 951.2 2503.6 C961.0 2506.3 970.8 2509.2 980.8 2511.0 C991.8 2512.9 1002.9 2514.2 1014.0 2514.7 C1026.3 2515.2 1038.7 2514.6 1051.0 2513.9 C1062.1 2513.3 1073.2 2512.2 1084.2 2511.0 C1089.5 2510.4 1094.8 2509.4 1100.0 2508.4 C1108.3 2506.7 1116.6 2505.3 1124.6 2502.8 C1133.0 2500.3 1141.2 2496.9 1149.3 2493.6 C1157.6 2490.2 1165.8 2486.5 1173.9 2482.5 C1182.3 2478.3 1190.5 2473.8 1198.5 2469.0 C1206.9 2463.9 1215.1 2458.6 1223.2 2453.0 C1231.6 2447.1 1239.9 2441.0 1247.8 2434.5 C1256.3 2427.5 1264.9 2420.4 1272.4 2412.3 C1279.8 2404.3 1285.4 2394.9 1292.4 2386.5 C1300.3 2377.0 1308.5 2367.8 1317.0 2358.8 C1323.9 2351.4 1331.6 2344.7 1338.5 2337.2 C1346.0 2329.3 1353.2 2321.1 1360.1 2312.6 C1366.6 2304.6 1372.8 2296.4 1378.6 2288.0 C1384.1 2280.0 1389.0 2271.7 1394.0 2263.3 C1398.2 2256.3 1402.4 2249.1 1406.3 2241.8 C1410.6 2233.7 1414.9 2225.6 1418.6 2217.2 C1423.1 2207.1 1426.6 2196.6 1430.9 2186.4 C1434.8 2177.1 1439.1 2167.9 1443.2 2158.7 C1447.3 2149.4 1451.0 2140.0 1455.5 2131.0 C1460.3 2121.5 1466.2 2112.7 1470.9 2103.3 C1475.5 2094.2 1479.1 2084.8 1483.3 2075.5 C1487.4 2066.3 1491.3 2057.0 1495.6 2047.8 C1499.5 2039.5 1502.9 2030.9 1507.9 2023.2 C1511.2 2018.0 1516.1 2014.0 1520.2 2009.3 C1523.8 2005.3 1528.1 2001.6 1531.0 1997.0 C1534.3 1991.8 1536.3 1985.8 1538.7 1980.1 C1542.0 1972.0 1545.1 1963.8 1547.9 1955.5 C1551.7 1944.3 1555.1 1932.9 1558.7 1921.6 C1562.3 1910.3 1565.5 1898.9 1569.5 1887.7 C1571.7 1881.4 1573.7 1875.0 1577.2 1869.3 C1578.9 1866.3 1581.4 1862.5 1584.9 1862.5 C1588.3 1862.5 1591.0 1866.2 1592.5 1869.3 C1596.3 1877.0 1598.1 1885.6 1600.2 1893.9 C1603.2 1905.1 1605.5 1916.4 1607.9 1927.8 C1610.6 1940.1 1613.1 1952.4 1615.6 1964.7 C1618.2 1977.0 1620.9 1989.3 1623.3 2001.7 C1626.0 2015.0 1628.3 2028.4 1631.0 2041.7 C1634.0 2056.1 1637.1 2070.4 1640.3 2084.8 C1643.2 2098.1 1646.4 2111.5 1649.5 2124.8 C1652.6 2138.1 1655.6 2151.5 1658.7 2164.8 C1661.1 2174.8 1663.3 2184.8 1665.8 2194.7 C1667.5 2201.9 1669.6 2209.1 1671.5 2216.3 C1673.4 2223.5 1675.2 2230.7 1677.3 2237.9 C1679.0 2244.1 1680.9 2250.4 1683.0 2256.5 C1684.7 2261.4 1686.7 2266.2 1688.8 2270.9 C1690.5 2274.8 1692.3 2278.8 1694.5 2282.4 C1695.4 2283.9 1696.5 2286.4 1698.1 2286.0 C1700.0 2285.6 1700.6 2282.9 1701.0 2281.0 C1702.0 2276.3 1702.0 2271.4 1702.4 2266.6 C1703.0 2259.4 1703.4 2252.2 1703.9 2245.0 C1704.4 2235.5 1704.8 2225.9 1705.3 2216.3 C1705.6 2209.1 1705.9 2201.9 1706.3 2194.7 C1706.6 2189.4 1706.8 2184.1 1707.5 2178.9 C1707.6 2178.0 1708.2 2175.5 1708.6 2176.3 C1709.9 2178.8 1710.1 2181.8 1710.3 2184.6 C1711.1 2192.8 1711.3 2200.9 1711.8 2209.1 C1712.3 2218.7 1712.5 2228.3 1713.2 2237.9 C1713.7 2245.1 1714.6 2252.2 1715.4 2259.4 C1716.1 2266.6 1716.7 2273.8 1717.5 2281.0 C1718.1 2285.8 1718.4 2290.7 1719.7 2295.4 C1720.1 2297.0 1721.6 2301.1 1722.6 2299.7 C1724.8 2296.5 1724.3 2292.1 1724.7 2288.2 C1725.5 2281.0 1725.7 2273.8 1726.1 2266.6 C1726.7 2257.0 1727.2 2247.4 1727.6 2237.9 C1728.0 2228.3 1728.4 2218.7 1728.7 2209.1 C1729.1 2199.5 1729.3 2189.9 1729.7 2180.3 C1730.1 2173.1 1730.3 2165.9 1731.2 2158.8 C1731.5 2156.5 1731.1 2152.3 1733.3 2152.3 C1735.6 2152.3 1735.2 2156.5 1735.5 2158.8 C1736.4 2165.9 1736.5 2173.1 1736.9 2180.3 C1737.5 2189.9 1737.9 2199.5 1738.4 2209.1 C1738.9 2221.1 1739.4 2233.1 1739.8 2245.0 C1740.2 2254.6 1740.4 2264.2 1740.8 2273.8 C1741.2 2283.4 1741.7 2293.0 1742.3 2302.6 C1742.8 2312.2 1743.5 2321.7 1744.1 2331.3 C1744.8 2340.9 1745.2 2350.5 1746.3 2360.1 C1747.1 2367.3 1748.4 2374.5 1749.9 2381.7 C1751.3 2388.9 1752.7 2396.2 1754.9 2403.2 C1756.3 2407.7 1758.2 2412.1 1760.7 2416.2 C1762.6 2419.4 1765.3 2422.0 1767.9 2424.8 C1770.1 2427.3 1772.4 2429.8 1775.0 2432.0 C1777.7 2434.2 1780.9 2435.7 1783.7 2437.7 C1785.8 2439.4 1787.6 2441.5 1789.9 2443.1 C1793.0 2445.3 1796.3 2447.1 1799.7 2449.0 C1802.9 2450.7 1806.2 2452.4 1809.6 2453.9 C1812.8 2455.3 1816.1 2456.6 1819.4 2457.8 C1822.7 2459.0 1826.0 2460.1 1829.3 2461.2 C1832.5 2462.3 1835.8 2463.5 1839.1 2464.3 C1845.6 2465.9 1852.2 2467.0 1858.8 2468.3 C1865.4 2469.6 1871.9 2470.8 1878.5 2472.0 C1885.1 2473.2 1891.6 2474.6 1898.2 2475.6 C1904.8 2476.5 1911.3 2477.3 1917.9 2477.5 C1921.9 2477.7 1925.9 2477.5 1929.8 2476.6 C1932.6 2475.8 1935.3 2474.4 1937.6 2472.6 C1941.3 2469.8 1944.5 2466.3 1947.5 2462.8 C1951.1 2458.4 1954.0 2453.5 1957.3 2449.0 C1960.5 2444.6 1963.4 2440.0 1967.2 2436.2 C1970.0 2433.3 1973.3 2430.7 1977.0 2429.3 C1979.5 2428.3 1982.4 2428.6 1984.9 2429.3 C1987.8 2430.0 1990.2 2431.8 1992.8 2433.2 C1996.2 2435.1 1999.5 2436.9 2002.7 2439.1 C2006.1 2441.5 2008.9 2444.8 2012.5 2447.0 C2016.9 2449.7 2021.7 2451.7 2026.3 2453.9 C2032.8 2457.0 2039.3 2460.1 2046.0 2462.8 C2052.5 2465.3 2059.0 2467.8 2065.7 2469.7 C2070.5 2471.0 2075.6 2471.4 2080.5 2472.2" fill="none" stroke="#0000ff" stroke-width="6.7" stroke-linejoin="round" stroke-linecap="round"/>
<rect x="252.5" y="1780.5" width="1830.5" height="1344.0" fill="none" stroke="#000" stroke-width="6.5"/>
<text transform="translate(252.5 3195.5) scale(1 1.040)" font-size="54" text-anchor="middle">5</text>
<line x1="618.6" y1="3124.5" x2="618.6" y2="3097.7" stroke="#000" stroke-width="6" stroke-linecap="round"/>
<text transform="translate(618.6 3195.5) scale(1 1.040)" font-size="54" text-anchor="middle">10</text>
<line x1="984.7" y1="3124.5" x2="984.7" y2="3097.7" stroke="#000" stroke-width="6" stroke-linecap="round"/>
<text transform="translate(984.7 3195.5) scale(1 1.040)" font-size="54" text-anchor="middle">15</text>
<line x1="1350.8" y1="3124.5" x2="1350.8" y2="3097.7" stroke="#000" stroke-width="6" stroke-linecap="round"/>
<text transform="translate(1350.8 3195.5) scale(1 1.040)" font-size="54" text-anchor="middle">20</text>
<line x1="1716.9" y1="3124.5" x2="1716.9" y2="3097.7" stroke="#000" stroke-width="6" stroke-linecap="round"/>
<text transform="translate(1716.9 3195.5) scale(1 1.040)" font-size="54" text-anchor="middle">25</text>
<text transform="translate(2083.0 3195.5) scale(1 1.040)" font-size="54" text-anchor="middle">30</text>
<text transform="translate(223.3 3139.3) scale(1 1.040)" font-size="54" text-anchor="end">0.0</text>
<line x1="252.5" y1="2956.5" x2="279.3" y2="2956.5" stroke="#000" stroke-width="6" stroke-linecap="round"/>
<text transform="translate(223.3 2971.3) scale(1 1.040)" font-size="54" text-anchor="end">0.5</text>
<line x1="252.5" y1="2788.5" x2="279.3" y2="2788.5" stroke="#000" stroke-width="6" stroke-linecap="round"/>
<text transform="translate(223.3 2803.3) scale(1 1.040)" font-size="54" text-anchor="end">1.0</text>
<line x1="252.5" y1="2620.5" x2="279.3" y2="2620.5" stroke="#000" stroke-width="6" stroke-linecap="round"/>
<text transform="translate(223.3 2635.3) scale(1 1.040)" font-size="54" text-anchor="end">1.5</text>
<line x1="252.5" y1="2452.5" x2="279.3" y2="2452.5" stroke="#000" stroke-width="6" stroke-linecap="round"/>
<text transform="translate(223.3 2467.3) scale(1 1.040)" font-size="54" text-anchor="end">2.0</text>
<line x1="252.5" y1="2284.5" x2="279.3" y2="2284.5" stroke="#000" stroke-width="6" stroke-linecap="round"/>
<text transform="translate(223.3 2299.3) scale(1 1.040)" font-size="54" text-anchor="end">2.5</text>
<line x1="252.5" y1="2116.5" x2="279.3" y2="2116.5" stroke="#000" stroke-width="6" stroke-linecap="round"/>
<text transform="translate(223.3 2131.3) scale(1 1.040)" font-size="54" text-anchor="end">3.0</text>
<line x1="252.5" y1="1948.5" x2="279.3" y2="1948.5" stroke="#000" stroke-width="6" stroke-linecap="round"/>
<text transform="translate(223.3 1963.3) scale(1 1.040)" font-size="54" text-anchor="end">3.5</text>
<text transform="translate(223.3 1795.3) scale(1 1.040)" font-size="54" text-anchor="end">4.0</text>
<text transform="translate(2112.0 3139.3) scale(1 1.040)" font-size="54">-0.20</text>
<line x1="2083.0" y1="2866.0" x2="2056.2" y2="2866.0" stroke="#000" stroke-width="6" stroke-linecap="round"/>
<text transform="translate(2112.0 2880.8) scale(1 1.040)" font-size="54">-0.15</text>
<line x1="2083.0" y1="2607.6" x2="2056.2" y2="2607.6" stroke="#000" stroke-width="6" stroke-linecap="round"/>
<text transform="translate(2112.0 2622.4) scale(1 1.040)" font-size="54">-0.10</text>
<line x1="2083.0" y1="2349.1" x2="2056.2" y2="2349.1" stroke="#000" stroke-width="6" stroke-linecap="round"/>
<text transform="translate(2112.0 2363.9) scale(1 1.040)" font-size="54">-0.05</text>
<line x1="2083.0" y1="2090.7" x2="2056.2" y2="2090.7" stroke="#000" stroke-width="6" stroke-linecap="round"/>
<text transform="translate(2112.0 2105.5) scale(1 1.040)" font-size="54">0.00</text>
<line x1="2083.0" y1="1832.2" x2="2056.2" y2="1832.2" stroke="#000" stroke-width="6" stroke-linecap="round"/>
<text transform="translate(2112.0 1847.0) scale(1 1.040)" font-size="54">0.05</text>
<text transform="translate(878.5 3304.5) scale(1 1.040)" font-size="66.5" textLength="577.6" lengthAdjust="spacing">Eluent volume (mL)</text>
<text transform="translate(87.0 2774.5) rotate(-90) scale(1 1.040)" font-size="66.5" textLength="499.0" lengthAdjust="spacing">SLS intensity (90</text>
<text transform="translate(50.6 2274.4) rotate(-90)" font-size="39">o</text>
<text transform="translate(87.0 2251.3) rotate(-90) scale(1 1.040)" font-size="66.5">)</text>
<text transform="translate(2318.0 2815.1) rotate(-90) scale(1 1.040)" font-size="66.5" textLength="637.2" lengthAdjust="spacing">Absorbance (280 nm)</text>
<line x1="144.0" y1="2676.6" x2="376.4" y2="2995.7" stroke="#000" stroke-width="3.3" stroke-linecap="round"/>
<polygon points="395.5,3022.0 366.5,2997.9 381.5,2987.0" fill="#000" stroke="#000" stroke-width="1.5" stroke-linejoin="round"/>
<line x1="2262.5" y1="2557.0" x2="2022.3" y2="2479.1" stroke="#000" stroke-width="3.3" stroke-linecap="round"/>
<polygon points="1991.4,2469.1 2029.0,2471.6 2023.3,2489.2" fill="#000" stroke="#000" stroke-width="1.5" stroke-linejoin="round"/>
</svg></body></html>
